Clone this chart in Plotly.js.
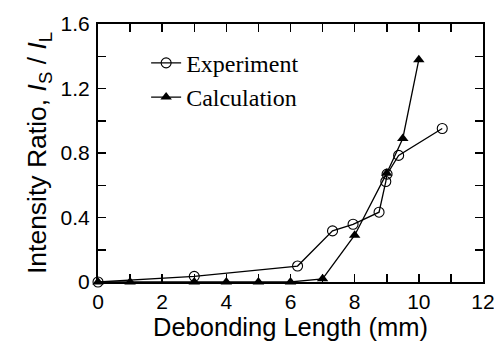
<!DOCTYPE html>
<html><head><meta charset="utf-8">
<script src="https://cdn.plot.ly/plotly-3.0.1.min.js"></script>
<style>html,body{margin:0;padding:0;background:#fff}#c{width:494px;height:341px}</style>
</head><body><div id="c"></div>
<script>
var expX = [0, 3, 6.22, 7.31, 7.95, 8.76, 8.97, 9.01, 9.37, 10.73];
var expY = [0, 0.035, 0.099, 0.317, 0.358, 0.433, 0.623, 0.669, 0.785, 0.952];
var calcX = [0, 1, 3, 4, 5, 6, 7, 8, 9, 9.5, 10];
var calcY = [0, 0, 0, 0, 0, 0, 0.02, 0.29, 0.675, 0.89, 1.379];
var xTicks = [0, 2, 4, 6, 8, 10, 12];
var yTicks = [0, 0.4, 0.8, 1.2, 1.6];
var yTickText = ['0', '0.4', '0.8', '1.2', '1.6'];

var traces = [
  {x: expX, y: expY, name: 'Experiment', mode: 'lines+markers', cliponaxis: false,
   line: {color: '#000', width: 1.3},
   marker: {symbol: 'circle-open', size: 10, color: '#000', line: {width: 1.1, color: '#000'}}},
  {x: calcX, y: calcY, name: 'Calculation', mode: 'lines+markers', cliponaxis: false,
   line: {color: '#000', width: 1.3},
   marker: {symbol: 'triangle-up', size: 10, color: '#000'}}
];
var axBase = {ticks: 'inside', ticklen: 8, tickwidth: 1.5, tickcolor: '#000', showline: true,
  linecolor: '#000', linewidth: 2, mirror: 'ticks', showgrid: false, zeroline: false,
  ticklabeloverflow: 'allow',
  tickfont: {family: 'Liberation Sans, Arial', size: 21, color: '#000'}};
var layout = {
  width: 494, height: 341, margin: {l: 98, r: 11, t: 24, b: 59},
  paper_bgcolor: '#fff', plot_bgcolor: '#fff', showlegend: true,
  legend: {x: 0.125, y: 0.935, xanchor: 'left', yanchor: 'top', bgcolor: 'rgba(0,0,0,0)',
    font: {family: 'Liberation Serif, Times New Roman', size: 24, color: '#000'},
    tracegroupgap: 0},
  xaxis: Object.assign({}, axBase, {range: [0, 12], tickvals: xTicks, ticktext: xTicks.map(String),
    ticklabelstandoff: 0,
    minor: {dtick: 1, ticks: 'inside', ticklen: 8, tickwidth: 1.5, tickcolor: '#000'},
    title: {text: 'Debonding Length (mm)', standoff: 4, font: {family: 'Liberation Sans, Arial', size: 25.5, color: '#000'}}}),
  yaxis: Object.assign({}, axBase, {range: [0, 1.6], tickvals: yTicks, ticktext: yTickText,
    ticklabelstandoff: 2,
    minor: {dtick: 0.2, tick0: 0, ticks: 'inside', ticklen: 8, tickwidth: 1.5, tickcolor: '#000'},
    title: {text: 'Intensity Ratio, <i>I</i><sub>S</sub> / <i>I</i><sub>L</sub>', standoff: 6, font: {family: 'Liberation Sans, Arial', size: 26.5, color: '#000'}}})
};
Plotly.newPlot('c', traces, layout, {staticPlot: true});
</script></body></html>
